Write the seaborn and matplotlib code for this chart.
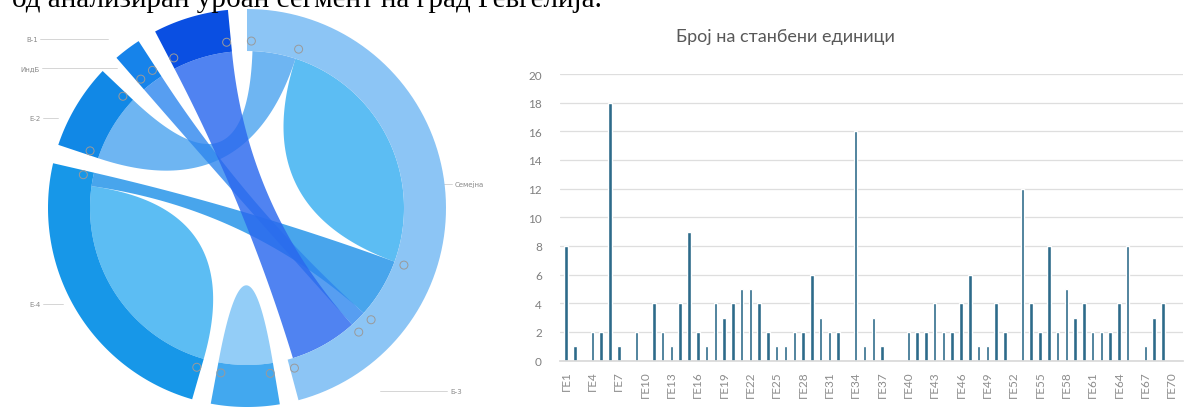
import numpy as np
import pandas as pd
import matplotlib
matplotlib.use("Agg")
import matplotlib.pyplot as plt
from matplotlib.patches import Polygon, Circle
import seaborn as sns

# ---------------- data ----------------
bar_categories = [f"ГЕ{i}" for i in range(1, 71)]
bar_values = [8, 1, 0, 2, 2, 18, 1, 0, 2, 0,
              4, 2, 1, 4, 9, 2, 1, 4, 3, 4,
              5, 5, 4, 2, 1, 1, 2, 2, 6, 3,
              2, 2, 0, 16, 1, 3, 1, 0, 0, 2,
              2, 2, 4, 2, 2, 4, 6, 1, 1, 4,
              2, 0, 12, 4, 2, 8, 2, 5, 3, 4,
              2, 2, 2, 4, 8, 0, 1, 3, 4, 0]
bar_title = "Број на станбени единици"
y_ticks = [0, 2, 4, 6, 8, 10, 12, 14, 16, 18, 20]

# chord diagram groups (clockwise from top)
group_names = ["Семејна", "Б-3", "Е-4", "Е-2", "ИндБ", "В-1"]
group_sizes = [165, 20, 87, 25, 8, 22]
group_colors = ["#8cc5f5", "#42a8ef", "#1797e8", "#1188e6", "#1683ea", "#0a4fe2"]

# links: (group, from, to) -> (group, from, to), offsets in group units
link_src_group = [0, 2, 1, 3, 2, 4, 5]
link_src_from = [18, 0, 0, 0, 82, 0, 0]
link_src_to = [64, 41, 10, 25, 87, 8, 22]
link_dst_group = [0, 2, 1, 0, 0, 0, 0]
link_dst_from = [64, 41, 10, 2, 110, 132, 138]
link_dst_to = [110, 82, 20, 18, 132, 138, 163]
link_colors = ["#5cbdf3", "#5cbdf3", "#93cdf7", "#3d9cee", "#1a8fe8", "#2d86ee", "#2a68ee"]
link_alpha = [1.0, 1.0, 1.0, 0.75, 0.8, 0.8, 0.82]

header_text = "од анализиран урбан сегмент на град Гевгелија."

# ---------------- style ----------------
sns.set_theme(style="white")
plt.rcParams['font.family'] = ['DejaVu Sans']

fig = plt.figure(figsize=(11.94, 4.10), dpi=100)

# ---------------- chord diagram ----------------
ax0 = fig.add_axes([0, 0, 500 / 1194, 1])
ax0.set_xlim(0, 500)
ax0.set_ylim(410, 0)
ax0.axis('off')

cx, cy, R, rin = 247, 209, 199, 157
gap = (360 - sum(group_sizes)) / len(group_sizes)
gstart = []
acc = 90.0
for s in group_sizes:
    gstart.append(acc)
    acc -= s + gap


def ang(g, off):
    return gstart[g] - off


def pts(r, th):
    th = np.radians(th)
    return np.column_stack([cx + r * np.cos(th), cy - r * np.sin(th)])


def arc(r, t1, t2, n=80):
    return pts(r, np.linspace(t1, t2, n))


def bez(p0, p2, n=80):
    t = np.linspace(0, 1, n)[:, None]
    c = np.array([cx, cy])
    return (1 - t) ** 2 * p0 + 2 * (1 - t) * t * c + t ** 2 * p2


for i in range(len(link_src_group)):
    a1 = ang(link_src_group[i], link_src_from[i])
    a2 = ang(link_src_group[i], link_src_to[i])
    b1 = ang(link_dst_group[i], link_dst_from[i])
    b2 = ang(link_dst_group[i], link_dst_to[i])
    A = arc(rin, a1, a2)
    B = arc(rin, b1, b2)
    poly = np.vstack([A, bez(A[-1], B[0]), B, bez(B[-1], A[0])])
    ax0.add_patch(Polygon(poly, closed=True, facecolor=link_colors[i],
                          edgecolor='none', alpha=link_alpha[i], zorder=2 + i * 0.1))

for g, s in enumerate(group_sizes):
    t1, t2 = gstart[g], gstart[g] - s
    poly = np.vstack([arc(R, t1, t2), arc(rin, t2, t1)])
    ax0.add_patch(Polygon(poly, closed=True, facecolor=group_colors[g],
                          edgecolor='none', zorder=4))

# small end markers
marker_angles = []
for g, s in enumerate(group_sizes):
    marker_angles += [gstart[g] - 1.5, gstart[g] - s + 1.5]
for off in [18, 110, 132, 138]:
    marker_angles.append(ang(0, off))
for th in marker_angles:
    p = pts(rin + 10, th)[0]
    ax0.add_patch(Circle(p, 4, facecolor='none', edgecolor='#9a9a9a', lw=0.7, zorder=6))

# group labels with leader lines
label_pos = [(470, 185), (458, 392), (30, 305), (30, 119), (28, 69), (28, 40)]
line_pos = [((413, 185), (452, 185)), ((380, 392), (447, 392)), ((43, 305), (63, 305)),
            ((43, 119), (58, 119)), ((42, 69), (117, 69)), ((40, 40), (108, 40))]
for name, (lx, ly), (p1, p2) in zip(group_names, label_pos, line_pos):
    ax0.plot([p1[0], p2[0]], [p1[1], p2[1]], color='#cfcfcf', lw=0.6)
    ha = 'left' if lx > 300 else 'right'
    tx = p2[0] + 3 if lx > 300 else p1[0] - 2
    ax0.text(tx, ly, name, fontsize=5, color='#8a8a8a', ha=ha, va='center')

# ---------------- bar chart ----------------
ax1 = fig.add_axes([560 / 1194, 48.5 / 410, 623 / 1194, 286.5 / 410])
df = pd.DataFrame({"cat": bar_categories, "val": bar_values})
sns.barplot(data=df, x="cat", y="val", color="#2d6b8a", saturation=1,
            width=0.4, ax=ax1)
ax1.set_ylim(0, 20)
ax1.set_xlim(-0.7, 70.3)
ax1.set_yticks(y_ticks)
ax1.set_yticklabels([str(v) for v in y_ticks], fontsize=8.5, color='#7f7f7f',
                    family=['Lato', 'DejaVu Sans'])
idx = list(range(0, len(bar_categories), 3))
ax1.set_xticks(idx)
ax1.set_xticklabels([bar_categories[i] for i in idx], rotation=90,
                    fontsize=8.5, color='#8c8c8c', family=['Lato', 'DejaVu Sans'])
ax1.set_xlabel("")
ax1.set_ylabel("")
ax1.yaxis.grid(True, color='#dedede', lw=0.9)
ax1.set_axisbelow(True)
for sp in ['top', 'right', 'left']:
    ax1.spines[sp].set_visible(False)
ax1.spines['bottom'].set_color('#d9d9d9')
ax1.tick_params(axis='y', length=0, pad=13)
ax1.tick_params(axis='x', length=0, pad=7)

fig.text(785 / 1194, 1 - 37 / 410, bar_title, ha='center', va='center',
         fontsize=13, color='#595959', family=['Lato', 'DejaVu Sans'])

fig.text(12 / 1194, 1 - 7 / 410, header_text, ha='left', va='baseline',
         fontsize=21, color='black', family=['Liberation Serif', 'DejaVu Serif'])

fig.savefig("out.png", dpi=100)
